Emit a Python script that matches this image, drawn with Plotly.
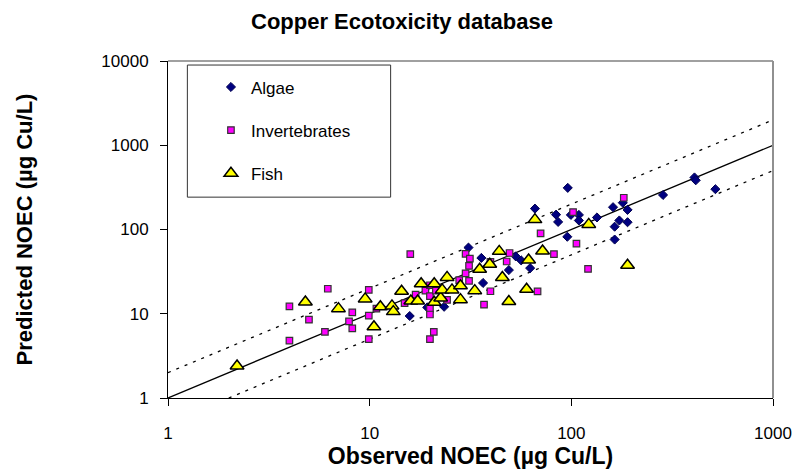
import plotly.graph_objects as go

# ---------------- data ----------------
algae_obs = [15.8, 19.3, 23.4, 30.9, 35.8, 36.5, 49, 53, 56.4, 62.5, 66, 84, 86, 95.5,
             96, 99.5, 109, 109, 134, 161, 164, 164, 173, 180, 190, 190, 285, 408, 414, 518]
algae_pred = [9.4, 11.9, 12.1, 61, 46, 23.2, 33, 48, 43, 34.8, 177, 150, 123, 82,
              312, 149, 149, 128, 139, 184, 108, 76, 128, 208, 171, 122, 257, 415, 384, 301]

invert_obs = [4.0, 4.0, 5.0, 6.0, 6.2, 7.9, 8.2, 8.2, 9.9, 9.9, 9.9, 10.8, 14.9, 15.9,
              16.9, 18.9, 19.9, 19.9, 19.9, 19.9, 20.8, 19.9, 21.3, 24.2, 27.8, 29.9,
              31.4, 31.1, 29.9, 31.1, 36.9, 39.7, 39.7, 47.8, 49.4, 68, 70.4, 82, 102,
              106, 121, 182]
invert_pred = [4.8, 12.2, 8.5, 6.1, 19.8, 8.1, 10.4, 6.7, 19.2, 9.5, 5.0, 11.5, 13.4, 51,
               16.9, 18.8, 21.8, 16.2, 11.5, 9.8, 6.1, 5.0, 18.8, 14.6, 25.1, 51.5,
               45, 37, 30.1, 24.6, 12.8, 41.2, 18.5, 41.7, 52.6, 18.4, 90, 51, 161,
               68, 34, 238]

fish_obs = [2.2, 4.8, 7.0, 9.5, 10.5, 11.3, 12.9, 13.1, 14.4, 16, 17.3, 18, 20.9, 20.9,
            22.5, 22.9, 24.2, 25.6, 28.2, 28.2, 33.2, 35.1, 39.4, 43.9, 45.5, 49, 60,
            61.4, 66, 72, 122, 190]
fish_pred = [2.4, 13.8, 11.5, 15, 7.0, 12.1, 12.4, 10.6, 18.5, 14.2, 14.2, 22.7, 22.7, 13.7,
             15.4, 19.2, 27, 19.2, 21.5, 14.7, 18.8, 33.8, 38.7, 55, 26.9, 14, 19.5,
             43.5, 131, 55.6, 115, 37.7]

# 1:1 line and factor-of-two lines
line_x = [1, 1000]
factor = 2
x_ticks = [1, 10, 100, 1000]
y_ticks = [1, 10, 100, 1000, 10000]

FONT = "Liberation Sans, Arial, sans-serif"

fig = go.Figure()

# reference lines
fig.add_trace(go.Scatter(x=line_x, y=line_x, mode="lines",
                         line=dict(color="black", width=1.3),
                         showlegend=False, hoverinfo="skip"))
fig.add_trace(go.Scatter(x=line_x, y=[v * factor for v in line_x], mode="lines",
                         line=dict(color="black", width=1.3, dash="3px,6px"),
                         showlegend=False, hoverinfo="skip"))
low_x = [line_x[0] * factor, line_x[1]]
fig.add_trace(go.Scatter(x=low_x, y=[v / factor for v in low_x], mode="lines",
                         line=dict(color="black", width=1.3, dash="3px,6px"),
                         showlegend=False, hoverinfo="skip"))

fig.add_trace(go.Scatter(x=algae_obs, y=algae_pred, mode="markers", name="Algae",
                         legendgroup="a",
                         marker=dict(symbol="diamond", size=7, color="#000080",
                                     line=dict(color="#000050", width=1))))
fig.add_trace(go.Scatter(x=invert_obs, y=invert_pred, mode="markers", name="Invertebrates",
                         legendgroup="b",
                         marker=dict(symbol="square", size=6.5, color="#FF00FF",
                                     line=dict(color="#333333", width=1.2))))
fig.add_trace(go.Scatter(x=fish_obs, y=fish_pred, mode="markers", name="Fish",
                         legendgroup="c",
                         marker=dict(symbol="triangle-up", size=12, color="#FFFF00",
                                     line=dict(color="black", width=1.5))))

L, R, T, B = 168, 29, 61, 71
fig.update_layout(
    width=804, height=472,
    margin=dict(l=L, r=R, t=T, b=B),
    paper_bgcolor="white", plot_bgcolor="white",
    font=dict(family=FONT, color="black"),
    title=dict(text="<b>Copper Ecotoxicity database</b>", x=0.5, xanchor="center",
               y=0.955, yanchor="middle", font=dict(size=22, family=FONT)),
    xaxis=dict(type="log", range=[0, 3], tickvals=x_ticks, ticktext=[str(v) for v in x_ticks],
               showgrid=False, zeroline=False, showline=True, linecolor="black", linewidth=1,
               ticks="outside", ticklen=7, tickcolor="black", tickfont=dict(size=17),
               ticklabelstandoff=13,
               title=dict(text="<b>Observed NOEC (µg Cu/L)</b>", font=dict(size=23), standoff=0)),
    yaxis=dict(type="log", range=[0, 4], tickvals=y_ticks, ticktext=[str(v) for v in y_ticks],
               showgrid=False, zeroline=False, showline=True, linecolor="black", linewidth=1,
               ticks="outside", ticklen=7, tickcolor="black", tickfont=dict(size=17),
               ticklabelstandoff=8,
               title=dict(text="<b>Predicted NOEC (µg Cu/L)</b>", font=dict(size=22), standoff=62)),
    legend=dict(x=0.071, y=0.975, xanchor="left", yanchor="top",
                bgcolor="rgba(0,0,0,0)", borderwidth=0,
                font=dict(size=17), tracegroupgap=18, traceorder="grouped"),
    shapes=[
        dict(type="rect", xref="paper", yref="paper", x0=0.032, x1=0.368, y0=0.596, y1=0.988,
             line=dict(color="#333333", width=1), fillcolor="white", layer="below"),
        dict(type="line", xref="paper", yref="paper", x0=0, x1=1, y0=1, y1=1,
             line=dict(color="#808080", width=1.5)),
        dict(type="line", xref="paper", yref="paper", x0=1, x1=1, y0=0, y1=1,
             line=dict(color="#909090", width=2)),
    ],
)

fig.write_html("out.html")
